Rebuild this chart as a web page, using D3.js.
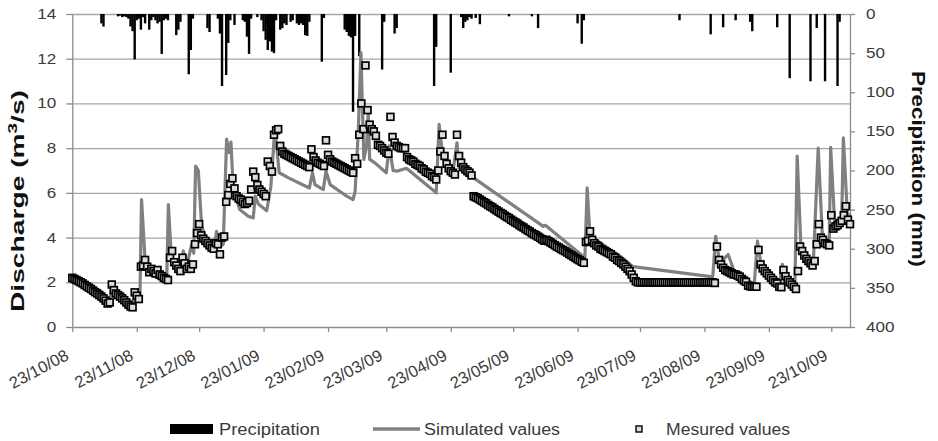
<!DOCTYPE html>
<html lang="en">
<head>
<meta charset="UTF-8" />
<title>Discharge and precipitation</title>
<script src="https://d3js.org/d3.v7.min.js"></script>
<style>
  body { margin: 0; background: #fff; font-family: "Liberation Sans", Arial, sans-serif; }
  svg text { fill: #3a3a3a; }
  .grid line { stroke: #a6a6a6; stroke-width: 1.3; }
  .grid path { display: none; }
  .axis path, .axis line { stroke: #8c8c8c; stroke-width: 1.3; }
  .title { fill: #111 !important; font-weight: bold; font-size: 18px; }
  .legend text { font-size: 16px; }
</style>
</head>
<body>
<svg id="chart" width="938" height="441"></svg>
<script>
// dates
const startDate = "2008-10-23";
const endDate = "2009-11-01";
const tickDates = ["2008-10-23", "2008-11-23", "2008-12-23", "2009-01-23", "2009-02-23",
  "2009-03-23", "2009-04-23", "2009-05-23", "2009-06-23", "2009-07-23", "2009-08-23",
  "2009-09-23", "2009-10-23"];
const dischargeTicks = [0, 2, 4, 6, 8, 10, 12, 14];
const precipTicks = [0, 50, 100, 150, 200, 250, 300, 350, 400];

// measured discharge (m3/s), one value per day, runs start at these day offsets
const measuredStarts = [0, 47, 74, 102, 193, 247, 310];
const measured1 = [2.2, 2.15, 2.1, 2.05, 2.0, 1.95, 1.88, 1.82, 1.76, 1.7, 1.63, 1.56, 1.5, 1.43,
  1.36, 1.28, 1.18, 1.05, 1.1, 1.9, 1.65, 1.5, 1.43, 1.36, 1.28, 1.2, 1.1, 1.0, 0.92, 0.88, 1.55,
  1.4, 1.25, 2.7, 2.75, 3.0, 2.7, 2.45, 2.6, 2.5, 2.4, 2.55, 2.35, 2.28, 2.2, 2.15, 2.1];
const measured2 = [3.1, 3.4, 2.9, 2.75, 2.6, 2.5, 3.1, 2.85, 2.6, 2.7, 2.6, 2.8, 3.7, 4.2, 4.6,
  4.1, 3.95, 3.85, 3.75, 3.65, 3.55, 3.5, 3.75, 3.7, 3.25, 4.0, 4.05];
const measured3 = [5.6, 5.9, 6.4, 6.65, 6.2, 5.85, 5.75, 5.7, 5.6, 5.5, 5.55, 5.65, 6.15, 6.95,
  6.7, 6.35, 6.15, 6.05, 5.95, 5.85, 7.4, 7.2, 6.95, 8.6, 8.8, 8.85, 8.1, 7.85];
const measured4 = [7.75, 7.7, 7.65, 7.6, 7.55, 7.5, 7.45, 7.4, 7.35, 7.3, 7.25, 7.2, 7.15, 7.95,
  7.6, 7.45, 7.35, 7.3, 7.25, 7.2, 8.35, 7.7, 7.5, 7.4, 7.35, 7.3, 7.25, 7.2, 7.15, 7.1, 7.05,
  7.0, 6.95, 6.9, 7.55, 7.3, 8.6, 10.0, 8.85, 11.7, 9.7, 9.05, 8.85, 8.75, 8.55, 8.15, 8.1, 8.0,
  7.9, 7.8, 7.75, 9.4, 8.5, 8.25, 8.1, 8.05, 8.0, 8.0, 8.0, 7.6, 7.5, 7.45, 7.4, 7.3, 7.25, 7.2,
  7.1, 7.05, 6.95, 6.9, 6.85, 6.75, 6.7, 6.6, 7.0, 7.85, 8.6, 7.65, 7.3, 7.1, 6.97, 6.9, 6.82,
  8.6, 7.65, 7.35, 7.15, 7.05, 6.97, 6.9, 6.78];
const measured5 = [5.85, 5.8, 5.76, 5.7, 5.64, 5.58, 5.53, 5.46, 5.4, 5.35, 5.28, 5.22, 5.16, 5.1,
  5.05, 4.98, 4.92, 4.87, 4.8, 4.74, 4.68, 4.63, 4.56, 4.5, 4.45, 4.38, 4.32, 4.27, 4.2, 4.15,
  4.1, 4.04, 3.98, 3.92, 3.86, 3.9, 3.84, 3.78, 3.72, 3.66, 3.6, 3.55, 3.49, 3.44, 3.39, 3.33,
  3.27, 3.21, 3.15, 3.09, 3.03, 2.98, 2.92, 2.87];
const measured6 = [3.8, 3.85, 4.28, 3.9, 3.75, 3.65, 3.6, 3.5, 3.45, 3.4, 3.35, 3.3, 3.25, 3.15,
  3.1, 3.0, 2.95, 2.87, 2.8, 2.7, 2.6, 2.5, 2.35, 2.2, 2.05,
  2.0, 2.0, 2.0, 2.0, 2.0, 2.0, 2.0, 2.0, 2.0, 2.0, 2.0, 2.0, 2.0, 2.0, 2.0, 2.0, 2.0, 2.0, 2.0,
  2.0, 2.0, 2.0, 2.0, 2.0, 2.0, 2.0, 2.0, 2.0, 2.0, 2.0, 2.0, 2.0, 2.0, 2.0, 2.0, 2.0, 2.0, 1.97];
const measured7 = [3.6, 3.0, 2.8, 2.65, 2.55, 2.5, 2.45, 2.4, 2.35, 2.35, 2.3, 2.25, 2.15, 2.08,
  2.02, 1.85, 1.82, 1.8, 1.8, 1.8, 3.45, 2.8, 2.62, 2.5, 2.4, 2.3, 2.2, 2.1, 2.0, 1.95, 1.8, 1.78,
  2.55, 2.27, 2.1, 2.0, 1.9, 1.8, 1.7, 2.5, 3.6, 3.4, 3.2, 3.05, 2.95, 2.85, 2.75, 2.95, 3.7, 4.6,
  4.0, 3.9, 3.75, 3.7, 3.65, 5.0, 4.4, 4.5, 4.55, 4.65, 4.75, 5.0, 5.4, 4.8, 4.6];
const measuredRuns = [measured1, measured2, measured3, measured4, measured5, measured6, measured7];

// simulated discharge (m3/s): [day offset, value]
const simulated = [[0, 2.2], [16.5, 1.07], [18, 1.15], [19, 1.9], [20, 1.55], [28.5, 0.85],
  [30, 1.45], [32.5, 1.15], [33.3, 5.7], [35, 3.0], [39, 2.27], [45.4, 2.05], [46.2, 5.48],
  [47.8, 2.87], [51.8, 2.4], [53.4, 3.4], [55, 2.7], [57.4, 3.7], [58.4, 3.3], [59.3, 7.2],
  [60.6, 7.0], [62.2, 4.5], [64.6, 3.9], [68.6, 3.76], [69.4, 4.28], [71, 3.6], [72.6, 3.7],
  [74.2, 8.4], [75.5, 7.8], [76.3, 8.27], [77.4, 6.15], [80.6, 5.25], [84.6, 4.95], [87, 4.88],
  [88, 5.85], [89.5, 5.5], [93.5, 5.2], [95.5, 6.3], [97.4, 8.9], [99.5, 6.9], [104, 6.67],
  [114, 6.22], [115.5, 6.9], [116.7, 6.37], [120.7, 6.15], [122, 6.97], [124, 6.37], [132, 5.85],
  [135, 5.7], [136, 6.07], [137.5, 8.7], [138.8, 12.27], [140.2, 7.5], [141.5, 8.1], [142.3, 9.5],
  [143, 7.5], [145.5, 7.34], [151, 6.9], [152.4, 8.1], [154.3, 7.0], [156, 6.97], [160.7, 7.1],
  [175, 6.0], [176.4, 9.06], [178, 7.8], [180, 7.05], [183, 6.9], [185, 8.24], [186, 7.1],
  [193, 6.67], [226.5, 4.5], [227.5, 4.55], [246.5, 3.1], [247.6, 6.22], [248.9, 4.13], [252, 3.9],
  [258, 3.5], [263, 3.2], [269.7, 2.7], [308, 2.24], [309.4, 4.06], [311.3, 2.87], [315.4, 3.24],
  [318, 2.57], [325, 2.04], [328, 1.97], [329.5, 3.84], [331.4, 2.7], [340.2, 1.97], [341.5, 2.8],
  [343.3, 2.1], [347.5, 1.82], [348.6, 7.64], [350.4, 3.6], [356.3, 2.7], [358.7, 8.0], [360.8, 3.9],
  [364, 3.6], [364.7, 8.04], [366.7, 4.5], [370, 4.8], [370.8, 8.46], [372.7, 5.1], [374, 4.95]];

// daily precipitation (mm): [day offset, mm]
const precipitation = [[14, 12], [15, 16], [22, 3], [23, 2], [24, 4], [25, 3], [26, 4], [27, 6],
  [28, 16], [29, 22], [30, 58], [31, 8], [32, 6], [33, 20], [34, 4], [35, 12], [37, 20], [38, 8],
  [39, 4], [40, 8], [41, 12], [42, 10], [43, 51], [44, 8], [45, 6], [46, 8], [50, 27], [51, 20],
  [52, 10], [56, 77], [57, 46], [58, 6], [65, 18], [66, 23], [70, 6], [71, 25], [72, 92], [74, 78],
  [75, 37], [76, 8], [78, 14], [82, 8], [83, 10], [84, 29], [85, 51], [86, 6], [89, 4], [91, 8],
  [92, 22], [93, 33], [94, 46], [95, 35], [96, 48], [97, 50], [98, 8], [100, 20], [101, 18],
  [102, 12], [103, 14], [105, 10], [106, 8], [108, 12], [109, 14], [110, 12], [111, 14], [112, 27],
  [113, 28], [114, 10], [120, 61], [121, 5], [131, 20], [132, 23], [133, 28], [134, 30], [135, 125],
  [136, 28], [138, 54], [149, 71], [150, 10], [155, 25], [156, 18], [174, 92], [175, 42], [182, 75],
  [187, 4], [188, 18], [189, 10], [190, 8], [191, 4], [192, 6], [194, 5], [196, 13], [210, 3],
  [221, 3], [224, 18], [243, 12], [245, 38], [246, 8], [292, 8], [307, 26], [313, 17], [319, 8],
  [326, 10], [327, 22], [339, 17], [345, 82], [355, 86], [358, 18], [362, 86], [368, 92], [369, 10]];

const parseDate = d3.utcParse("%Y-%m-%d");
const t0 = parseDate(startDate);
const dayToDate = (d) => new Date(t0.getTime() + d * 864e5);

const plot = { left: 72.3, right: 850, top: 14, bottom: 327 };
const svg = d3.select("#chart");

const x = d3.scaleUtc().domain([t0, parseDate(endDate)]).range([plot.left, plot.right]);
const yQ = d3.scaleLinear().domain([0, 14]).range([plot.bottom, plot.top]);
const yP = d3.scaleLinear().domain([0, 400]).range([plot.top, plot.bottom]);

// horizontal gridlines
svg.append("g")
  .attr("class", "grid")
  .attr("transform", `translate(${plot.left},0)`)
  .call(d3.axisLeft(yQ).tickValues(dischargeTicks.slice(1)).tickSize(-(plot.right - plot.left)).tickFormat(""));

// precipitation bars hanging from the top
svg.append("g")
  .selectAll("rect")
  .data(precipitation)
  .join("rect")
  .attr("x", (d) => x(dayToDate(d[0])) - 1.2)
  .attr("y", yP(0))
  .attr("width", 2.4)
  .attr("height", (d) => yP(d[1]) - yP(0))
  .attr("fill", "#000");

// axes
function widen(sel, k) {
  sel.each(function () {
    const w = this.getComputedTextLength();
    d3.select(this).attr("textLength", w * k).attr("lengthAdjust", "spacingAndGlyphs");
  });
}

const leftAxis = svg.append("g")
  .attr("class", "axis")
  .attr("transform", `translate(${plot.left},0)`)
  .call(d3.axisLeft(yQ).tickValues(dischargeTicks).tickSize(6).tickPadding(10).tickSizeOuter(0));
leftAxis.selectAll("text").attr("font-size", 14).call(widen, 1.22);

const rightAxis = svg.append("g")
  .attr("class", "axis")
  .attr("transform", `translate(${plot.right},0)`)
  .call(d3.axisRight(yP).tickValues(precipTicks).tickSize(5).tickPadding(11).tickSizeOuter(0));
rightAxis.selectAll("text").attr("font-size", 14).call(widen, 1.22);

// date labels, slanted, end of the text just under the tick
const bottomAxis = svg.append("g")
  .attr("class", "axis")
  .attr("transform", `translate(0,${plot.bottom})`)
  .call(d3.axisBottom(x).tickValues(tickDates.map(parseDate)).tickSize(5).tickSizeOuter(0)
    .tickFormat(d3.utcFormat("%d/%m/%y")));
bottomAxis.selectAll("text")
  .attr("font-size", 16.5)
  .attr("x", 0).attr("y", 0).attr("dy", 0)
  .attr("text-anchor", "end")
  .attr("transform", "translate(-3,32) rotate(-28)");

// simulated line
svg.append("path")
  .datum(simulated)
  .attr("fill", "none")
  .attr("stroke", "#808080")
  .attr("stroke-width", 3.2)
  .attr("stroke-linejoin", "round")
  .attr("d", d3.line().x((d) => x(dayToDate(d[0]))).y((d) => yQ(d[1])));

// measured squares
const measuredPoints = measuredRuns.flatMap((run, i) =>
  run.map((v, j) => ({ day: measuredStarts[i] + j, value: v })));
svg.append("g")
  .selectAll("rect")
  .data(measuredPoints)
  .join("rect")
  .attr("x", (d) => x(dayToDate(d.day)) - 3.4)
  .attr("y", (d) => yQ(d.value) - 3.4)
  .attr("width", 6.8)
  .attr("height", 6.8)
  .attr("fill", "#dcdcdc")
  .attr("stroke", "#000")
  .attr("stroke-width", 1.7);

// axis titles
const leftTitle = svg.append("text")
  .attr("class", "title")
  .attr("text-anchor", "middle")
  .attr("transform", "translate(24,201) rotate(-90)")
  .attr("textLength", 222)
  .attr("lengthAdjust", "spacingAndGlyphs");
leftTitle.append("tspan").text("Discharge (m");
leftTitle.append("tspan").attr("font-size", 12).attr("baseline-shift", "super").text("3");
leftTitle.append("tspan").text("/s)");

svg.append("text")
  .attr("class", "title")
  .attr("text-anchor", "middle")
  .attr("transform", "translate(912,169) rotate(90)")
  .attr("textLength", 196)
  .attr("lengthAdjust", "spacingAndGlyphs")
  .text("Precipitation (mm)");

// legend
const legend = svg.append("g").attr("class", "legend");
legend.append("rect").attr("x", 170).attr("y", 424).attr("width", 43).attr("height", 10).attr("fill", "#000");
legend.append("text").attr("x", 219).attr("y", 435).attr("textLength", 101)
  .attr("lengthAdjust", "spacingAndGlyphs").text("Precipitation");
legend.append("line").attr("x1", 373).attr("x2", 420).attr("y1", 429).attr("y2", 429)
  .attr("stroke", "#808080").attr("stroke-width", 3.5);
legend.append("text").attr("x", 424).attr("y", 435).attr("textLength", 136)
  .attr("lengthAdjust", "spacingAndGlyphs").text("Simulated values");
legend.append("rect").attr("x", 636).attr("y", 426).attr("width", 6).attr("height", 6)
  .attr("fill", "#dcdcdc").attr("stroke", "#000").attr("stroke-width", 1.4);
legend.append("text").attr("x", 666).attr("y", 435).attr("textLength", 124)
  .attr("lengthAdjust", "spacingAndGlyphs").text("Mesured values");
</script>
</body>
</html>
